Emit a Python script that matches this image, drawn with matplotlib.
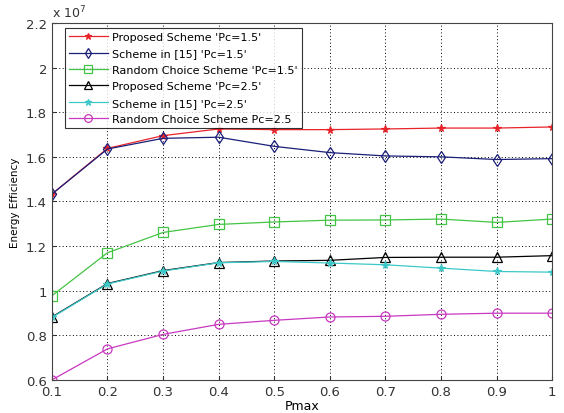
import matplotlib
matplotlib.use("Agg")
import matplotlib.pyplot as plt
from matplotlib.ticker import FuncFormatter

pmax = [0.1, 0.2, 0.3, 0.4, 0.5, 0.6, 0.7, 0.8, 0.9, 1.0]
proposed_15 = [1.433, 1.638, 1.695, 1.725, 1.722, 1.722, 1.725, 1.729, 1.729, 1.734]
scheme15_15 = [1.433, 1.635, 1.683, 1.688, 1.647, 1.619, 1.604, 1.600, 1.588, 1.592]
random_15 = [0.977, 1.170, 1.261, 1.297, 1.308, 1.316, 1.317, 1.321, 1.306, 1.321]
proposed_25 = [0.882, 1.032, 1.090, 1.126, 1.133, 1.136, 1.149, 1.150, 1.150, 1.157]
scheme15_25 = [0.880, 1.030, 1.088, 1.125, 1.131, 1.124, 1.116, 1.101, 1.086, 1.083]
random_25 = [0.600, 0.739, 0.804, 0.849, 0.867, 0.882, 0.885, 0.894, 0.899, 0.899]
scale = 1e7

labels = ["Proposed Scheme 'Pc=1.5'", "Scheme in [15] 'Pc=1.5'",
          "Random Choice Scheme 'Pc=1.5'", "Proposed Scheme 'Pc=2.5'",
          "Scheme in [15] 'Pc=2.5'", "Random Choice Scheme Pc=2.5"]

fig = plt.figure(figsize=(5.64, 4.14), dpi=100)
ax = fig.add_axes([0.092, 0.080, 0.887, 0.862])

series = [proposed_15, scheme15_15, random_15, proposed_25, scheme15_25, random_25]
styles = [
    dict(color='#e8242a', marker='*', ms=5.5, mfc='#e8242a'),
    dict(color='#1a1f78', marker='d', ms=6.5, mfc='none'),
    dict(color='#44c444', marker='s', ms=6.5, mfc='none'),
    dict(color='black', marker='^', ms=6.5, mfc='none'),
    dict(color='#3cc8c8', marker='*', ms=5.5, mfc='#3cc8c8'),
    dict(color='#c838c0', marker='o', ms=6.5, mfc='none'),
]
for s, st, lab in zip(series, styles, labels):
    ax.plot(pmax, [v * scale for v in s], lw=0.9, mew=0.9, label=lab, **st)

ax.set_xlim(0.1, 1.0)
ax.set_ylim(0.6 * scale, 2.2 * scale)
ax.set_xticks(pmax)
ax.set_xticklabels(['%g' % v for v in pmax])
ax.set_yticks([v * scale for v in [0.6, 0.8, 1.0, 1.2, 1.4, 1.6, 1.8, 2.0, 2.2]])
ax.yaxis.set_major_formatter(FuncFormatter(lambda v, p: '%g' % round(v / scale, 2)))
ax.tick_params(labelsize=9.5, direction='in', length=3, colors='#333333')
ax.grid(True, linestyle=(0, (1, 2.5)), color='black', lw=0.7)
for sp in ax.spines.values():
    sp.set_color('#444444')
ax.text(0.0, 1.008, r'x 10$^{7}$', transform=ax.transAxes, fontsize=9, color='#333333',
        ha='left', va='bottom')
ax.set_xlabel('Pmax', fontsize=9, labelpad=1)
ax.set_ylabel('Energy Efficiency', fontsize=7.5, labelpad=4)

leg = ax.legend(loc='upper left', bbox_to_anchor=(0.022, 0.992), fontsize=8.0,
                frameon=True, fancybox=False, edgecolor='black', handlelength=3.5,
                labelspacing=0.58, borderpad=0.35, borderaxespad=0.2, handletextpad=0.4,
                markerscale=0.85)
leg.get_frame().set_linewidth(0.8)

fig.savefig('out.png', dpi=100)
